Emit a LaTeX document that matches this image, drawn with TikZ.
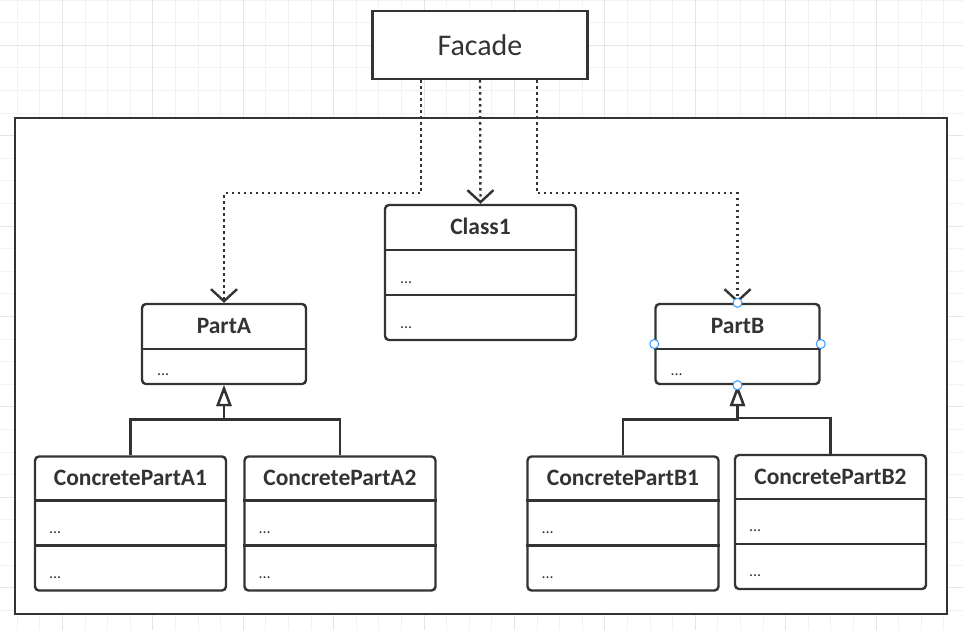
\documentclass[tikz,border=0pt]{standalone}
\usepackage{fontspec}
\setmainfont{Carlito}
\usetikzlibrary{arrows.meta, positioning, calc}
\definecolor{ink}{HTML}{333333}
\definecolor{handleblue}{HTML}{3399FF}
\definecolor{gridminor}{gray}{0.95}
\definecolor{gridmajor}{gray}{0.90}

\begin{document}
\begin{tikzpicture}[x=1pt, y=-1pt,
    umlbox/.style={draw=ink, line width=2.4pt, rounded corners=4pt, fill=white, inner sep=0pt},
    hdr/.style={font=\fontsize{23.5}{26}\selectfont\bfseries, text=ink},
    dots/.style={font=\fontsize{16}{18}\selectfont, text=ink, anchor=west, inner sep=0pt},
    sep/.style={draw=ink, line width=2.4pt},
    dep/.style={draw=ink, line width=2.4pt, dash pattern=on 2.4pt off 3.6pt, -{Straight Barb[length=12pt, width=26pt]}},
    gen/.style={draw=ink, line width=2.4pt, -{Triangle[open, length=21pt, width=15pt, fill=white]}},
    handle/.style={circle, draw=handleblue, fill=white, line width=1pt, inner sep=0pt, minimum size=9pt}]
  % canvas grid
  \useasboundingbox (0,0) rectangle (963,630);
  \fill[white] (0,0) rectangle (963,630);
  \foreach \k in {0,...,41} \draw[gridminor, line width=1pt] (17.3+22.6*\k,0) -- (17.3+22.6*\k,630);
  \foreach \k in {0,...,27} \draw[gridminor, line width=1pt] (0,22.6*\k) -- (963,22.6*\k);
  \foreach \k in {2,6,...,38} \draw[gridmajor, line width=1pt] (17.3+22.6*\k,0) -- (17.3+22.6*\k,630);
  \foreach \k in {2,6,...,26} \draw[gridmajor, line width=1pt] (0,22.6*\k) -- (963,22.6*\k);
  % subsystem frame and facade
  \node[draw=ink, line width=2.4pt, fill=white, inner sep=0pt, minimum width=932pt, minimum height=496pt] (subsys) at (481,366) {};
  \node[umlbox, rounded corners=0pt, minimum width=215pt, minimum height=68pt, font=\fontsize{30}{32}\selectfont, text=ink] (facade) at (480,45) {Facade};
  % Class1
  \node[umlbox, minimum width=191pt, minimum height=135pt] (class1) at (480.5,272.5) {};
  \node[hdr] (class1-t) at ($(class1.north)+(0,23)$) {Class1};
  \draw[sep] ($(class1.north west)+(0,46)$) -- ($(class1.north east)+(0,46)$);
  \draw[sep] ($(class1.north west)+(0,91)$) -- ($(class1.north east)+(0,91)$);
  \node[dots] (class1-a) at ($(class1.north west)+(16,79)$) {...};
  \node[dots] (class1-b) at ($(class1.north west)+(16,124)$) {...};
  % PartA, PartB
  \foreach \nm/\cx/\txt in {partA/224/PartA, partB/737.5/PartB} {
    \node[umlbox, minimum width=164pt, minimum height=80pt] (\nm) at (\cx,344) {};
    \node[hdr] (\nm-t) at ($(\nm.north)+(0,23)$) {\txt};
    \draw[sep] ($(\nm.north west)+(0,46)$) -- ($(\nm.north east)+(0,46)$);
    \node[dots] (\nm-a) at ($(\nm.north west)+(16,72)$) {...};
  }
  % concrete parts
  \foreach \nm/\cx/\cy/\txt in {cpa1/130.5/523.5/ConcretePartA1, cpa2/340/523.5/ConcretePartA2,
      cpb1/623/523.5/ConcretePartB1, cpb2/830.5/522/ConcretePartB2} {
    \node[umlbox, minimum width=191pt, minimum height=134pt] (\nm) at (\cx,\cy) {};
    \node[hdr] (\nm-t) at ($(\nm.north)+(0,23)$) {\txt};
    \draw[sep] ($(\nm.north west)+(0,45)$) -- ($(\nm.north east)+(0,45)$);
    \draw[sep] ($(\nm.north west)+(0,90)$) -- ($(\nm.north east)+(0,90)$);
    \node[dots] (\nm-a) at ($(\nm.north west)+(15,77)$) {...};
    \node[dots] (\nm-b) at ($(\nm.north west)+(15,122)$) {...};
  }
  % facade dependencies
  \draw[dep] ([xshift=-59pt]facade.south) -- ++(0,113) -| (partA.north);
  \draw[dep] (facade.south) -- (class1.north);
  \draw[dep] ([xshift=57pt]facade.south) -- ++(0,113) -| (partB.north);
  % generalisations
  \draw[gen] (cpa1.north) -- ++(0,-36) -| (partA.south);
  \draw[gen] (cpa2.north) -- ++(0,-36) -| (partA.south);
  \draw[gen] (cpb1.north) -- ++(0,-36) -| (partB.south);
  \draw[gen] (cpb2.north) -- ++(0,-36) -| (partB.south);
  % selection handles
  \foreach \a in {north, west, east, south} \node[handle] (hb-\a) at (partB.\a) {};
\end{tikzpicture}
\end{document}
